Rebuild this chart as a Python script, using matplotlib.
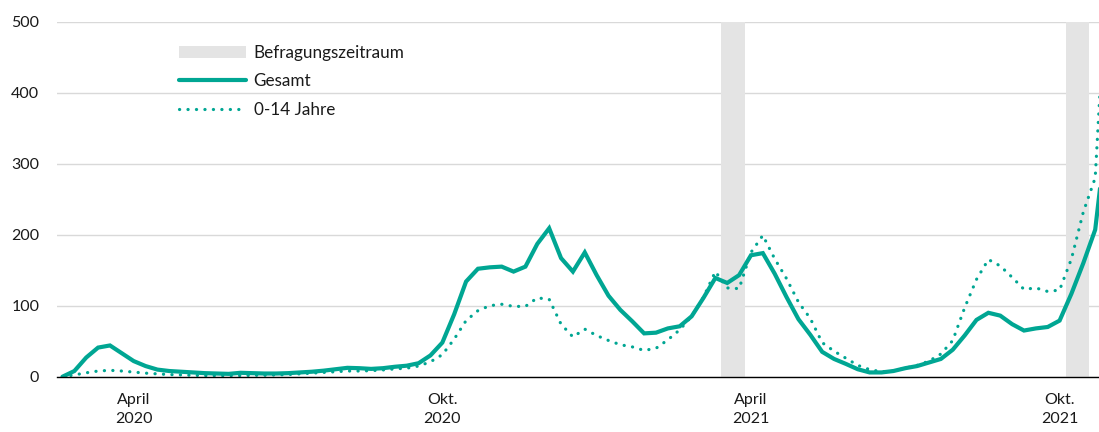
import matplotlib
matplotlib.use("Agg")
import matplotlib.pyplot as plt
from matplotlib.patches import Patch
from matplotlib.lines import Line2D

plt.rcParams['font.family'] = ['Lato', 'DejaVu Sans']

# weekly index 0..88
gesamt = [0, 8, 27, 41, 44, 33, 22, 15, 10, 8,
          7, 6, 5, 4.5, 4, 5.5, 5, 4.5, 4.5, 5,
          6, 7, 8.5, 10.5, 12.5, 12, 11, 12, 14, 15.5,
          19, 30, 48, 88, 134, 152, 154, 155, 148, 155,
          187, 209, 167, 148, 175, 143, 114, 94, 78, 61,
          62, 68, 71, 85, 111, 139, 132, 143, 171, 174,
          145, 112, 81, 59, 35, 25, 18, 10.5, 6, 6,
          8, 12, 15, 20, 25, 38, 58, 80, 90, 86,
          74, 65, 68, 70, 79, 117, 160, 207, 350]

kinder = [0, 2.5, 5.5, 8, 9, 8, 6.5, 5, 4, 3,
          2.5, 2, 1.5, 1.5, 1.5, 1.5, 2, 2, 2.5, 3,
          4, 5, 6, 7, 8, 8, 8.5, 9.5, 11, 12,
          15, 21, 31, 53, 79, 93, 100, 102, 99, 99,
          111, 109, 74, 56, 67, 58, 51, 45, 42, 37,
          40, 52, 66, 85, 112, 148, 125, 124, 175, 199,
          166, 138, 105, 82, 48, 36, 26, 16, 10, 7,
          8, 12, 16, 22, 32, 51, 97, 137, 165, 156,
          140, 123, 125, 120, 122, 166, 232, 280, 580]

weeks = list(range(len(gesamt)))

survey_periods = [(55.5, 57.5), (84.5, 86.5)]
tick_pos = [6, 32, 58, 84]
tick_labels = ["April\n2020", "Okt.\n2020", "April\n2021", "Okt.\n2021"]
y_ticks = [0, 100, 200, 300, 400, 500]

teal = '#00A693'
shade = '#E4E4E4'
txt = '#1a1a1a'
fs = 11.5
dots = (0, (0.05, 2.6))

fig = plt.figure(figsize=(10.99, 4.32), dpi=100)
ax = fig.add_axes([0.0521, 0.128, 0.9479, 0.822])

for a, b in survey_periods:
    ax.axvspan(a, b, color=shade, lw=0, zorder=1)

ax.plot(weeks, kinder, color=teal, lw=2.3, linestyle=dots,
        dash_capstyle='round', zorder=3)
ax.plot(weeks, gesamt, color=teal, lw=3.0, solid_capstyle='round',
        solid_joinstyle='miter', zorder=4)

ax.set_xlim(-0.44, 87.32)
ax.set_ylim(0, 500)
ax.set_yticks(y_ticks)
ax.set_yticklabels([str(v) for v in y_ticks], fontsize=fs, color=txt)
ax.set_xticks(tick_pos)
ax.set_xticklabels(tick_labels, fontsize=fs, color=txt, linespacing=1.4)
ax.tick_params(axis='both', length=0)
ax.tick_params(axis='y', pad=13)
ax.tick_params(axis='x', pad=12)
ax.grid(axis='y', color='#D9D9D9', lw=1.0, zorder=0)
ax.set_axisbelow(True)
for s in ['top', 'right', 'left']:
    ax.spines[s].set_visible(False)
ax.spines['bottom'].set_color('black')
ax.spines['bottom'].set_linewidth(1.0)
ax.spines['bottom'].set_zorder(5)

handles = [
    Patch(facecolor=shade, edgecolor='none'),
    Line2D([], [], color=teal, lw=3.0, solid_capstyle='round'),
    Line2D([], [], color=teal, lw=2.3, linestyle=dots,
           dash_capstyle='round'),
]
labels = ["Befragungszeitraum", "Gesamt", "0-14 Jahre"]
fig.legend(handles, labels, loc='upper left',
           bbox_to_anchor=(179 / 1099, 1 - 45 / 432),
           frameon=False, fontsize=12.3, borderpad=0, borderaxespad=0,
           handlelength=3.95, handletextpad=0.42, labelspacing=0.72,
           labelcolor=txt)

fig.savefig('out.png', dpi=100)
